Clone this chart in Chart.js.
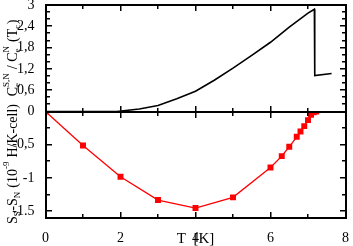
<!DOCTYPE html>
<html>
<head>
<meta charset="utf-8">
<script src="https://cdn.jsdelivr.net/npm/chart.js@4/dist/chart.umd.min.js"></script>
<style>
  html, body { margin: 0; padding: 0; background: #fff; }
</style>
</head>
<body>
<canvas id="chart" width="353" height="246"></canvas>
<script>
// DATA
const heatT = [0, 1.9, 2.5, 3, 3.5, 4, 4.5, 5, 5.5, 6, 6.5, 7, 7.17, 7.18, 7.63];
const heatRatio = [0, 0, 0.07, 0.17, 0.36, 0.57, 0.88, 1.22, 1.58, 1.95, 2.38, 2.77, 2.88, 1.01, 1.07];

const entT = [0, 1, 2, 3, 4, 5, 6, 6.3, 6.5, 6.7, 6.8, 6.9, 7.0, 7.08, 7.15, 7.22];
const entDiff = [0, -0.51, -0.98, -1.33, -1.45, -1.29, -0.84, -0.67, -0.53, -0.38, -0.30, -0.22, -0.13, -0.05, -0.01, 0];

const xTicks = [0, 2, 4, 6, 8];
const xTickLabels = ['0', '2', '4', '6', '8'];
const topTicks = [0, 0.6, 1.2, 1.8, 2.4, 3];
const topTickLabels = ['0', '0,6', '1,2', '1,8', '2,4', '3'];
const botTicks = [-1.5, -1, -0.5];
const botTickLabels = ['-1.5', '-1', '-0,5'];

const FONT = "'Liberation Serif', 'DejaVu Serif', serif";

// draw a rotated label with sub/superscripts
function richText(ctx, parts, cx, cy) {
  const big = '14px ' + FONT, small = '9px ' + FONT;
  const w = p => {
    if (p.t) { ctx.font = big; return ctx.measureText(p.t).width; }
    ctx.font = small;
    return Math.max(p.sub ? ctx.measureText(p.sub).width : 0, p.sup ? ctx.measureText(p.sup).width : 0) + 0.5;
  };
  const total = parts.reduce((s, p) => s + w(p), 0);
  ctx.save();
  ctx.translate(cx, cy);
  ctx.rotate(-Math.PI / 2);
  ctx.fillStyle = '#000';
  ctx.textBaseline = 'alphabetic';
  ctx.textAlign = 'left';
  let x = -total / 2;
  parts.forEach(p => {
    const pw = w(p);
    if (p.t) { ctx.font = big; ctx.fillText(p.t, x, 5); }
    else {
      ctx.font = small;
      if (p.sub) ctx.fillText(p.sub, x, 8);
      if (p.sup) ctx.fillText(p.sup, x, -3);
    }
    x += pw;
  });
  ctx.restore();
}

const frame = {
  id: 'frame',
  afterDraw(c) {
    const ctx = c.ctx, a = c.chartArea;
    const sx = c.scales.x, yT = c.scales.yT, yB = c.scales.yB;
    const mid = yT.getPixelForValue(0);
    const L = Math.round(a.left), R = Math.round(a.right), T = Math.round(a.top), B = Math.round(a.bottom), M = Math.round(mid);
    ctx.save();
    ctx.fillStyle = '#000000';
    ctx.fillRect(L - 1, T - 1, R - L + 2, 2);
    ctx.fillRect(L - 1, B - 1, R - L + 2, 2);
    ctx.fillRect(L - 1, M - 1, R - L + 2, 2);
    ctx.fillRect(L - 1, T - 1, 2, B - T + 2);
    ctx.fillRect(R - 1, T - 1, 2, B - T + 2);

    for (let v = 1; v < 8; v++) {
      const px = Math.round(sx.getPixelForValue(v));
      const len = v % 2 === 0 ? 6 : 4;
      ctx.fillRect(px - 1, T, 1.5, len);
      ctx.fillRect(px - 1, B - len, 1.5, len);
      ctx.fillRect(px - 1, M - len, 1.5, 2 * len);
    }
    for (let i = 1; i < 15; i++) {
      const py = Math.round(yT.getPixelForValue(i * 0.2));
      const len = i % 3 === 0 ? 6 : 4;
      ctx.fillRect(L, py - 1, len, 1.5);
      ctx.fillRect(R - len, py - 1, len, 1.5);
    }
    for (let i = 1; i <= 6; i++) {
      const py = Math.round(yB.getPixelForValue(-i * 0.25));
      const len = i % 2 === 0 ? 6 : 4;
      ctx.fillRect(L, py - 1, len, 1.5);
      ctx.fillRect(R - len, py - 1, len, 1.5);
    }

    ctx.font = '15px ' + FONT;
    ctx.textAlign = 'center';
    ctx.textBaseline = 'middle';
    ctx.fillText('T  [K]', sx.getPixelForValue(4), 239);

    richText(ctx, [{ t: 'C' }, { sub: 'e', sup: 'S,N' }, { t: ' / C' }, { sub: 'e', sup: 'N' }, { t: ' (T' }, { sub: 'c' }, { t: ')' }], 12, 58);
    richText(ctx, [{ t: 'S' }, { sub: 'S' }, { t: '-S' }, { sub: 'N' }, { t: ' (10' }, { sup: '-9' }, { t: ' H/K-cell)' }], 12, 164);
    ctx.restore();
  }
};

const tickFont = { family: FONT, size: 14 };
const axisBorder = { display: true, color: '#000', width: 2 };
const noPad = s => { s.width = 45.5; s.paddingTop = 0; s.paddingBottom = 0; };

new Chart(document.getElementById('chart').getContext('2d'), {
  type: 'scatter',
  data: {
    datasets: [
      {
        data: heatT.map((x, i) => ({ x: x, y: heatRatio[i] })),
        yAxisID: 'yT',
        showLine: true,
        borderColor: '#000',
        borderWidth: 1.6,
        pointRadius: 0
      },
      {
        data: entT.map((x, i) => ({ x: x, y: entDiff[i] })),
        yAxisID: 'yB',
        showLine: true,
        borderColor: '#ff0000',
        backgroundColor: '#ff0000',
        borderWidth: 1.3,
        pointStyle: 'rect',
        pointRadius: 4.2,
        pointBorderWidth: 0
      }
    ]
  },
  options: {
    responsive: false,
    animation: false,
    layout: { padding: { top: 5, right: 6, left: 0, bottom: 0 } },
    plugins: { legend: { display: false }, tooltip: { enabled: false } },
    scales: {
      x: {
        type: 'linear',
        min: 0, max: 8,
        grid: { display: false },
        border: axisBorder,
        afterBuildTicks: s => { s.ticks = xTicks.map(v => ({ value: v })); },
        afterFit: s => { s.height = 28; },
        ticks: {
          font: tickFont, color: '#000', padding: 4, maxRotation: 0, autoSkip: false,
          callback: (v, i) => xTickLabels[i]
        }
      },
      yB: {
        type: 'linear',
        position: 'left',
        stack: 'v',
        stackWeight: 1,
        min: -1.6, max: 0,
        grid: { display: false },
        border: axisBorder,
        afterBuildTicks: s => { s.ticks = botTicks.map(v => ({ value: v })); },
        afterFit: noPad,
        ticks: {
          font: tickFont, color: '#000', padding: 3, autoSkip: false,
          callback: (v, i) => botTickLabels[i]
        }
      },
      yT: {
        type: 'linear',
        position: 'left',
        stack: 'v',
        stackWeight: 1,
        min: 0, max: 3,
        grid: { display: false },
        border: axisBorder,
        afterBuildTicks: s => { s.ticks = topTicks.map(v => ({ value: v })); },
        afterFit: noPad,
        ticks: {
          font: tickFont, color: '#000', padding: 3, autoSkip: false,
          callback: (v, i) => topTickLabels[i]
        }
      }
    }
  },
  plugins: [frame]
});
</script>
</body>
</html>
